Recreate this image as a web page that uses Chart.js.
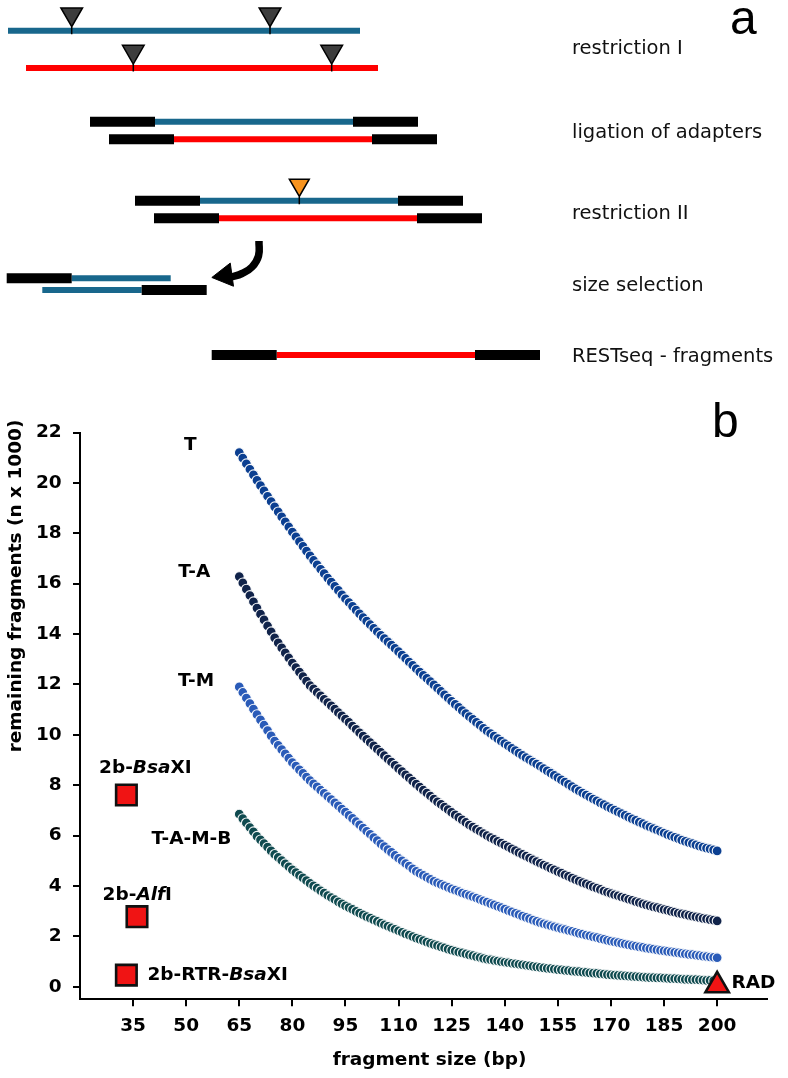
<!DOCTYPE html>
<html>
<head>
<meta charset="utf-8">
<script src="https://cdn.jsdelivr.net/npm/chart.js@4.4.1/dist/chart.umd.min.js"></script>
<style>
html,body{margin:0;padding:0;background:#ffffff;}
canvas{display:block;}
</style>
</head>
<body>
<canvas id="panelA" width="788" height="385"></canvas>
<canvas id="panelB" width="788" height="693"></canvas>
<script>
// ================= Panel b data =================
const FRAGMENT_SIZES = [
  65,66,67,68,69,70,71,72,73,74,75,76,77,78,79,80,81,82,83,84,
  85,86,87,88,89,90,91,92,93,94,95,96,97,98,99,100,101,102,103,104,
  105,106,107,108,109,110,111,112,113,114,115,116,117,118,119,120,121,122,123,124,
  125,126,127,128,129,130,131,132,133,134,135,136,137,138,139,140,141,142,143,144,
  145,146,147,148,149,150,151,152,153,154,155,156,157,158,159,160,161,162,163,164,
  165,166,167,168,169,170,171,172,173,174,175,176,177,178,179,180,181,182,183,184,
  185,186,187,188,189,190,191,192,193,194,195,196,197,198,199,200
];
const T_VALUES = [
  21.20,
  20.98,20.76,20.54,20.32,20.10, 19.89,19.68,19.47,19.26,19.05,
  18.85,18.65,18.45,18.25,18.05, 17.86,17.67,17.48,17.29,17.10,
  16.92,16.75,16.57,16.40,16.22, 16.06,15.89,15.73,15.56,15.40,
  15.25,15.10,14.95,14.80,14.65, 14.51,14.37,14.23,14.09,13.95,
  13.82,13.69,13.56,13.43,13.30, 13.16,13.03,12.89,12.76,12.62,
  12.49,12.36,12.24,12.11,11.98, 11.85,11.72,11.59,11.46,11.33,
  11.21,11.09,10.96,10.84,10.72, 10.61,10.49,10.38,10.26,10.15,
  10.05,9.95,9.85,9.75,9.65, 9.56,9.46,9.37,9.27,9.18,
  9.09,9.01,8.92,8.84,8.75, 8.66,8.57,8.48,8.39,8.30,
  8.21,8.12,8.03,7.94,7.85, 7.77,7.69,7.61,7.53,7.45,
  7.38,7.30,7.23,7.15,7.08, 7.01,6.94,6.87,6.80,6.73,
  6.66,6.60,6.53,6.47,6.40, 6.34,6.28,6.22,6.16,6.10,
  6.04,5.99,5.93,5.88,5.82, 5.77,5.72,5.68,5.63,5.58,
  5.54,5.50,5.47,5.43,5.39
];
const TA_VALUES = [
  16.28,
  16.03,15.78,15.53,15.28,15.03, 14.79,14.56,14.32,14.09,13.85,
  13.65,13.45,13.25,13.05,12.85, 12.67,12.49,12.31,12.13,11.95,
  11.82,11.68,11.55,11.41,11.28, 11.15,11.02,10.88,10.75,10.62,
  10.49,10.35,10.22,10.08,9.95, 9.82,9.69,9.56,9.43,9.30,
  9.17,9.04,8.92,8.79,8.66, 8.54,8.41,8.29,8.16,8.04,
  7.92,7.80,7.69,7.57,7.45, 7.34,7.24,7.13,7.03,6.92,
  6.82,6.72,6.62,6.52,6.42, 6.34,6.25,6.17,6.08,6.00,
  5.92,5.85,5.77,5.70,5.62, 5.55,5.47,5.40,5.32,5.25,
  5.18,5.11,5.04,4.97,4.90, 4.83,4.77,4.70,4.64,4.57,
  4.51,4.44,4.38,4.31,4.25, 4.19,4.13,4.08,4.02,3.96,
  3.91,3.86,3.80,3.75,3.70, 3.65,3.61,3.56,3.52,3.47,
  3.43,3.38,3.34,3.29,3.25, 3.21,3.17,3.14,3.10,3.06,
  3.03,2.99,2.96,2.92,2.89, 2.86,2.83,2.80,2.77,2.74,
  2.71,2.69,2.66,2.64,2.61
];
const TM_VALUES = [
  11.90,
  11.68,11.46,11.24,11.02,10.80, 10.59,10.38,10.17,9.96,9.75,
  9.58,9.41,9.24,9.07,8.90, 8.76,8.61,8.47,8.32,8.18,
  8.05,7.93,7.80,7.68,7.55, 7.43,7.30,7.18,7.05,6.93,
  6.80,6.68,6.55,6.43,6.30, 6.17,6.05,5.92,5.80,5.67,
  5.56,5.44,5.33,5.21,5.10, 5.00,4.89,4.79,4.68,4.58,
  4.50,4.42,4.34,4.26,4.18, 4.12,4.06,4.00,3.94,3.88,
  3.83,3.78,3.72,3.67,3.62, 3.57,3.52,3.46,3.41,3.36,
  3.30,3.25,3.19,3.14,3.08, 3.02,2.97,2.91,2.86,2.80,
  2.75,2.70,2.64,2.59,2.54, 2.50,2.46,2.42,2.38,2.34,
  2.30,2.27,2.23,2.20,2.16, 2.12,2.09,2.05,2.02,1.98,
  1.95,1.91,1.88,1.84,1.81, 1.78,1.75,1.72,1.69,1.66,
  1.63,1.61,1.58,1.56,1.53, 1.51,1.49,1.46,1.44,1.42,
  1.40,1.38,1.36,1.34,1.32, 1.30,1.28,1.27,1.25,1.23,
  1.21,1.20,1.18,1.17,1.15
];
const TAMB_VALUES = [
  6.85,
  6.67,6.50,6.32,6.15,5.97, 5.83,5.68,5.54,5.39,5.25,
  5.13,5.01,4.88,4.76,4.64, 4.53,4.42,4.32,4.21,4.10,
  4.00,3.91,3.81,3.72,3.62, 3.54,3.46,3.37,3.29,3.21,
  3.14,3.07,2.99,2.92,2.85, 2.78,2.72,2.65,2.59,2.52,
  2.46,2.40,2.34,2.28,2.22, 2.16,2.10,2.05,1.99,1.93,
  1.88,1.83,1.77,1.72,1.67, 1.63,1.58,1.54,1.49,1.45,
  1.41,1.37,1.34,1.30,1.26, 1.23,1.19,1.16,1.12,1.09,
  1.07,1.04,1.02,0.99,0.97, 0.95,0.93,0.91,0.89,0.87,
  0.85,0.83,0.81,0.79,0.77, 0.75,0.73,0.72,0.70,0.68,
  0.67,0.65,0.64,0.62,0.61, 0.60,0.58,0.57,0.55,0.54,
  0.53,0.51,0.50,0.48,0.47, 0.46,0.45,0.44,0.43,0.42,
  0.41,0.40,0.39,0.38,0.37, 0.36,0.36,0.35,0.35,0.34,
  0.33,0.32,0.32,0.31,0.30, 0.29,0.29,0.28,0.28,0.27,
  0.26,0.25,0.25,0.24,0.23
];
const SERIES_NAMES = ['T', 'T-A', 'T-M', 'T-A-M-B'];
const ENZYME_NAMES = ['2b-BsaXI', '2b-AlfI', '2b-RTR-BsaXI'];
const ENZYME_SIZES = [33.1, 36.1, 33.1];
const ENZYME_COUNTS = [7.61, 2.78, 0.46];
const RAD_NAME = 'RAD';
const RAD_SIZES = [200];
const RAD_COUNTS = [0.05];
const X_TICKS = [35, 50, 65, 80, 95, 110, 125, 140, 155, 170, 185, 200];
const Y_TICKS = [0, 2, 4, 6, 8, 10, 12, 14, 16, 18, 20, 22];

// ================= Panel a (workflow diagram) data =================
const STEP_LABELS = ['restriction I', 'ligation of adapters', 'restriction II', 'size selection', 'RESTseq - fragments'];
// strands: row position and segments [start, end, kind] in diagram units
const STRANDS = [
  {row: 30.7,  segs: [[8, 360, 'blue']]},
  {row: 68,    segs: [[26, 378, 'red']]},
  {row: 121.7, segs: [[90, 155, 'adapter'], [155, 353, 'blue'], [353, 418, 'adapter']]},
  {row: 139.3, segs: [[109, 174, 'adapter'], [174, 372, 'red'], [372, 437, 'adapter']]},
  {row: 200.7, segs: [[135, 200, 'adapter'], [200, 398, 'blue'], [398, 463, 'adapter']]},
  {row: 218.3, segs: [[154, 219, 'adapter'], [219, 417, 'red'], [417, 482, 'adapter']]},
  {row: 278.3, segs: [[6.7, 71.7, 'adapter'], [71.7, 170.7, 'blue']]},
  {row: 290,   segs: [[42.3, 141.7, 'blue'], [141.7, 206.7, 'adapter']]},
  {row: 355,   segs: [[211.7, 276.7, 'adapter'], [276.7, 475, 'red'], [475, 540, 'adapter']]}
];
const CUT_SITES = [
  {pos: 71.7,  row: 30.7,  enzyme: 'I'},
  {pos: 270,   row: 30.7,  enzyme: 'I'},
  {pos: 133.3, row: 68,    enzyme: 'I'},
  {pos: 331.7, row: 68,    enzyme: 'I'},
  {pos: 299.3, row: 200.7, enzyme: 'II'}
];
const ARROW_PATH = [[259, 241], [258.5, 256], [252, 267], [242, 273.5], [231, 277]];
const ARROW_HEAD = [225.2, 275.6];

// ================= styles =================
const STRAND_COLORS = {blue: '#18678c', red: '#ff0000', adapter: '#000000'};
const STRAND_WIDTHS = {blue: 6, red: 6, adapter: 10};
const SERIES_COLORS = ['#0b3f91', '#10234a', '#2a5bb8', '#0f4a4f'];
const SANS = "'DejaVu Sans', sans-serif";

// ---------- Panel a chart ----------
const datasetsA = [];
STRANDS.forEach(s => s.segs.forEach(([x0, x1, kind]) => {
  datasetsA.push({
    data: [{x: x0, y: s.row}, {x: x1, y: s.row}],
    showLine: true, borderColor: STRAND_COLORS[kind], borderWidth: STRAND_WIDTHS[kind],
    borderCapStyle: 'butt', pointRadius: 0, order: kind === 'adapter' ? 2 : 3, clip: false
  });
}));
CUT_SITES.forEach(c => {
  datasetsA.push({
    data: [{x: c.pos, y: c.row - 4}, {x: c.pos, y: c.row + 3.5}],
    showLine: true, borderColor: '#000', borderWidth: 1.5, pointRadius: 0, order: 1, clip: false
  });
  datasetsA.push({
    data: [{x: c.pos, y: c.row - (c.enzyme === 'II' ? 15.8 : 16.5)}],
    pointStyle: 'triangle', pointRotation: 180, pointRadius: c.enzyme === 'II' ? 11.5 : 12.5,
    pointBackgroundColor: c.enzyme === 'II' ? '#f7931e' : '#3d3d3d',
    pointBorderColor: '#000', pointBorderWidth: 1.5, order: 0, clip: false
  });
});
datasetsA.push({
  data: ARROW_PATH.map(([x, y]) => ({x, y})),
  showLine: true, tension: 0.45, borderColor: '#000', borderWidth: 7.5,
  borderCapStyle: 'butt', pointRadius: 0, order: 1, clip: false
});
datasetsA.push({
  data: [{x: ARROW_HEAD[0], y: ARROW_HEAD[1]}],
  pointStyle: 'triangle', pointRotation: 262, pointRadius: 13.5,
  pointBackgroundColor: '#000', pointBorderColor: '#000', pointBorderWidth: 1, order: 0, clip: false
});

const STEP_LABEL_X = 572;
const STEP_LABEL_BASELINES = [54.2, 137.6, 218.8, 290.8, 362];

const panelAText = {
  id: 'panelAText',
  afterDatasetsDraw(chart) {
    const {ctx, scales: {x, y}} = chart;
    ctx.save();
    ctx.fillStyle = '#111';
    ctx.font = "19.5px " + SANS;
    ctx.textAlign = 'left';
    ctx.textBaseline = 'alphabetic';
    STEP_LABELS.forEach((t, i) => ctx.fillText(t, x.getPixelForValue(STEP_LABEL_X), y.getPixelForValue(STEP_LABEL_BASELINES[i])));
    ctx.fillStyle = '#000';
    ctx.font = "48px 'Liberation Sans', Arial, sans-serif";
    ctx.fillText('a', x.getPixelForValue(730), y.getPixelForValue(34));
    ctx.restore();
  }
};

new Chart(document.getElementById('panelA'), {
  type: 'scatter',
  data: {datasets: datasetsA},
  options: {
    responsive: false, animation: false, events: [],
    layout: {padding: 0, autoPadding: false},
    plugins: {legend: {display: false}, tooltip: {enabled: false}},
    scales: {
      x: {type: 'linear', min: 0, max: 788, display: false},
      y: {type: 'linear', min: 0, max: 385, reverse: true, display: false}
    }
  },
  plugins: [panelAText]
});

// ---------- Panel b chart ----------
const seriesValues = [T_VALUES, TA_VALUES, TM_VALUES, TAMB_VALUES];
const datasetsB = [];
datasetsB.push({
  label: 'enzymes',
  data: ENZYME_SIZES.map((s, i) => ({x: s, y: ENZYME_COUNTS[i]})),
  pointStyle: 'rect', pointRadius: 14.5, pointBackgroundColor: '#f01414',
  pointBorderColor: '#111', pointBorderWidth: 2.6, order: 0, clip: false
});
datasetsB.push({
  label: RAD_NAME,
  data: RAD_SIZES.map((s, i) => ({x: s, y: RAD_COUNTS[i]})),
  pointStyle: 'triangle', pointRadius: 13.5, pointBackgroundColor: '#f01414',
  pointBorderColor: '#111', pointBorderWidth: 2.6, order: 0, clip: false
});
SERIES_NAMES.forEach((name, k) => {
  datasetsB.push({
    label: name,
    data: FRAGMENT_SIZES.map((s, i) => ({x: s, y: seriesValues[k][i]})),
    pointStyle: 'circle', pointRadius: 4.9, pointBackgroundColor: SERIES_COLORS[k],
    pointBorderColor: 'rgba(255,255,255,0.95)', pointBorderWidth: 1.1, order: 1, clip: false
  });
});

// text positions (data coordinates of label centres)
const SERIES_LABEL_POS = [[51.16, 21.58], [52.29, 16.55], [52.80, 12.21], [51.50, 5.95]];
const ENZYME_LABEL_POS = [[38.45, 8.76, 'center'], [36.19, 3.72, 'center'], [39.07, 0.53, 'left']];
const ENZYME_LABEL_PARTS = [
  [['2b-', false], ['Bsa', true], ['XI', false]],
  [['2b-', false], ['Alf', true], ['I', false]],
  [['2b-RTR-', false], ['Bsa', true], ['XI', false]]
];
const RAD_LABEL_POS = [204.04, 0.20];

function drawRich(ctx, parts, px, py, align, size) {
  const fonts = parts.map(p => (p[1] ? 'italic ' : '') + 'bold ' + size + 'px ' + SANS);
  const widths = parts.map((p, i) => { ctx.font = fonts[i]; return ctx.measureText(p[0]).width; });
  const total = widths.reduce((a, b) => a + b, 0);
  let cx = align === 'center' ? px - total / 2 : px;
  ctx.textAlign = 'left';
  ctx.textBaseline = 'alphabetic';
  const base = py + 0.3645 * size;
  parts.forEach((p, i) => { ctx.font = fonts[i]; ctx.fillText(p[0], cx, base); cx += widths[i]; });
}

const panelBText = {
  id: 'panelBText',
  afterDatasetsDraw(chart) {
    const {ctx, scales: {x, y}} = chart;
    ctx.save();
    ctx.fillStyle = '#000';
    SERIES_NAMES.forEach((n, i) => {
      drawRich(ctx, [[n, false]], x.getPixelForValue(SERIES_LABEL_POS[i][0]), y.getPixelForValue(SERIES_LABEL_POS[i][1]), 'center', 18.5);
    });
    ENZYME_NAMES.forEach((n, i) => {
      const p = ENZYME_LABEL_POS[i];
      drawRich(ctx, ENZYME_LABEL_PARTS[i], x.getPixelForValue(p[0]), y.getPixelForValue(p[1]), p[2], 18.5);
    });
    drawRich(ctx, [[RAD_NAME, false]], x.getPixelForValue(RAD_LABEL_POS[0]), y.getPixelForValue(RAD_LABEL_POS[1]), 'left', 18.5);

    // axis titles
    ctx.font = 'bold 18.5px ' + SANS;
    ctx.textAlign = 'center';
    ctx.textBaseline = 'alphabetic';
    ctx.fillText('fragment size (bp)', 429.5, 679.5);
    ctx.save();
    ctx.translate(21, 201);
    ctx.rotate(-Math.PI / 2);
    ctx.fillText('remaining fragments (n x 1000)', 0, 0);
    ctx.restore();

    // panel letter
    ctx.font = "48px 'Liberation Sans', Arial, sans-serif";
    ctx.textAlign = 'left';
    ctx.fillText('b', 712, 52);
    ctx.restore();
  }
};

const axisCommon = {
  grid: {display: true, drawOnChartArea: false, drawTicks: true, tickLength: 7, color: '#000', lineWidth: 2},
  border: {display: true, color: '#000', width: 2}
};

new Chart(document.getElementById('panelB'), {
  type: 'scatter',
  data: {datasets: datasetsB},
  options: {
    responsive: false, animation: false, events: [],
    layout: {padding: {top: 47.5, right: 21.3, bottom: 0, left: 0}, autoPadding: false},
    plugins: {legend: {display: false}, tooltip: {enabled: false}},
    scales: {
      x: Object.assign({}, axisCommon, {
        type: 'linear', min: 20, max: 214,
        afterBuildTicks: s => { s.ticks = X_TICKS.map(v => ({value: v})); },
        afterFit: s => { s.height = 78.7; },
        ticks: {color: '#000', autoSkip: false, maxRotation: 0, padding: 8.6,
                font: {family: SANS, size: 18.5, weight: 'bold'}}
      }),
      y: Object.assign({}, axisCommon, {
        type: 'linear', min: -0.5, max: 22,
        afterBuildTicks: s => { s.ticks = Y_TICKS.map(v => ({value: v})); },
        afterFit: s => { s.width = 80; },
        ticks: {color: '#000', autoSkip: false, padding: 11.3,
                font: {family: SANS, size: 18.5, weight: 'bold'}}
      })
    }
  },
  plugins: [panelBText]
});
</script>
</body>
</html>
